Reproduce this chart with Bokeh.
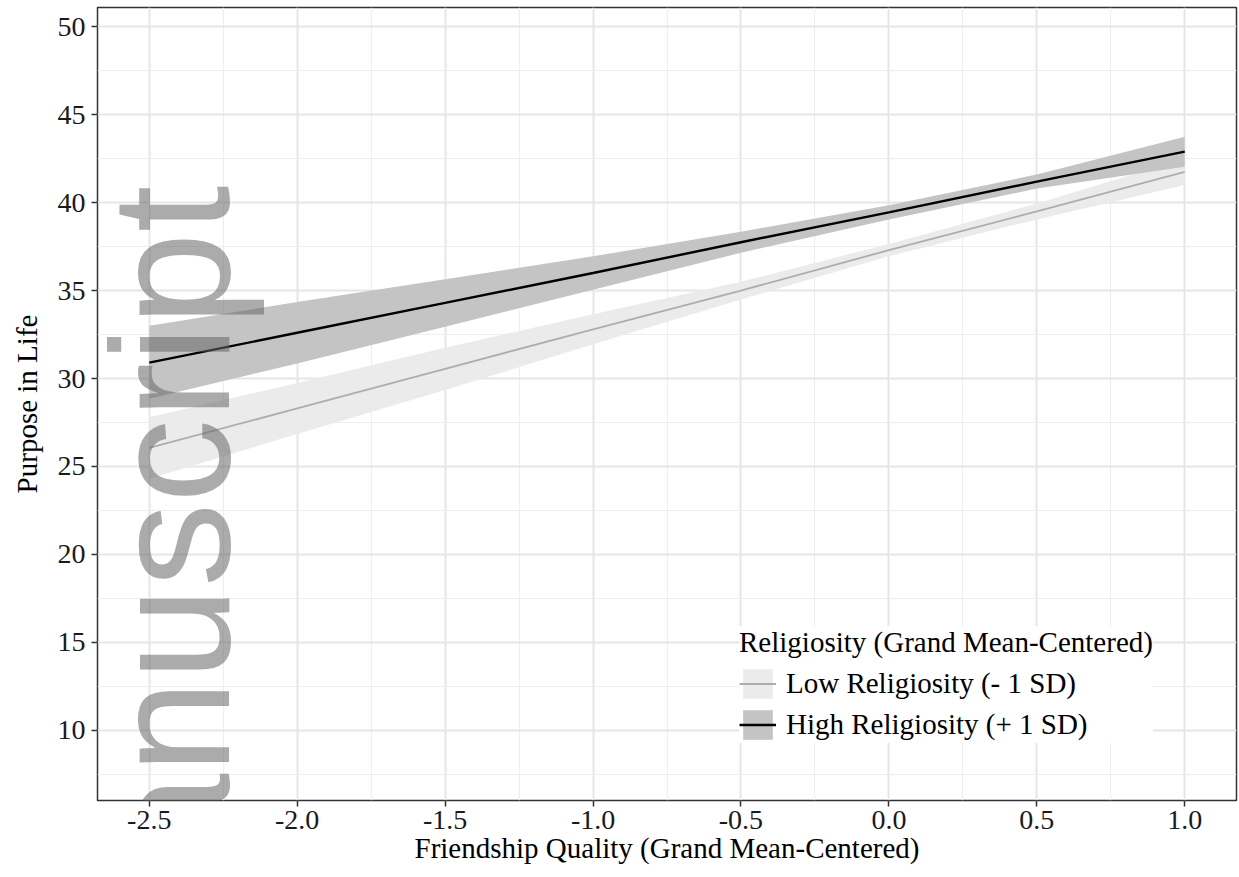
import math
from bokeh.plotting import figure
from bokeh.models import (Range1d, FixedTicker, Legend, LegendItem, Label)
from bokeh.embed import file_html
from bokeh.resources import INLINE

# ---- data ----
x_grid = [-2.5, -2.0, -1.5, -1.0, -0.5, 0.0, 0.5, 1.0]

high_fit = [30.9, 32.6, 34.3, 36.0, 37.75, 39.45, 41.2, 42.9]
high_lower = [28.85, 30.85, 32.95, 35.05, 37.15, 39.05, 40.8, 42.05]
high_upper = [33.0, 34.35, 35.65, 36.95, 38.35, 39.85, 41.6, 43.75]

low_fit = [26.05, 28.3, 30.55, 32.8, 35.0, 37.3, 39.5, 41.75]
low_lower = [24.3, 26.85, 29.35, 31.95, 34.5, 36.95, 39.05, 41.0]
low_upper = [27.8, 29.75, 31.75, 33.65, 35.5, 37.65, 39.95, 42.5]

x_ticks = [-2.5, -2.0, -1.5, -1.0, -0.5, 0.0, 0.5, 1.0]
x_tick_labels = ["-2.5", "-2.0", "-1.5", "-1.0", "-0.5", "0.0", "0.5", "1.0"]
x_minor = [-2.25, -1.75, -1.25, -0.75, -0.25, 0.25, 0.75]
y_ticks = [10, 15, 20, 25, 30, 35, 40, 45, 50]
y_tick_labels = ["10", "15", "20", "25", "30", "35", "40", "45", "50"]
y_minor = [7.5, 12.5, 17.5, 22.5, 27.5, 32.5, 37.5, 42.5, 47.5]

series_labels = ["Low Religiosity (- 1 SD)", "High Religiosity (+ 1 SD)"]
legend_title = "Religiosity (Grand Mean-Centered)"
x_title = "Friendship Quality (Grand Mean-Centered)"
y_title = "Purpose in Life"
watermark = "Manuscript"

SERIF = "Liberation Serif"

p = figure(width=1239, height=877,
           x_range=Range1d(-2.675, 1.175), y_range=Range1d(6.0, 51.1),
           output_backend="svg", toolbar_location=None,
           min_border_left=97, min_border_right=3, min_border_top=7,
           min_border_bottom=77)
p.background_fill_color = "white"
p.border_fill_color = "white"
p.outline_line_color = "#333333"
p.outline_line_width = 1.5

xax = p.xaxis[0]
yax = p.yaxis[0]

# axes
xax.ticker = FixedTicker(ticks=x_ticks, minor_ticks=x_minor)
yax.ticker = FixedTicker(ticks=y_ticks, minor_ticks=y_minor)
xax.major_label_overrides = dict(zip(x_ticks, x_tick_labels))
yax.major_label_overrides = dict(zip(y_ticks, y_tick_labels))
for ax in (xax, yax):
    ax.axis_line_color = None
    ax.minor_tick_line_color = None
    ax.major_tick_line_color = "#333333"
    ax.major_tick_line_width = 1.5
    ax.major_tick_out = 6
    ax.major_tick_in = 0
    ax.major_label_text_font = SERIF
    ax.major_label_text_font_size = "28px"
    ax.major_label_text_color = "#1a1a1a"
    ax.axis_label_text_font = SERIF
    ax.axis_label_text_font_size = "29px"
    ax.axis_label_text_font_style = "normal"
    ax.axis_label_text_color = "black"
xax.axis_label = x_title
yax.axis_label = y_title
xax.major_label_standoff = 4
xax.axis_label_standoff = 0
yax.major_label_standoff = 6
yax.axis_label_standoff = 12

# grid
for g in (p.xgrid, p.ygrid):
    g.grid_line_color = "#E6E6E6"
    g.grid_line_width = 2
    g.minor_grid_line_color = "#EEEEEE"
    g.minor_grid_line_width = 1.2

# ribbons and lines
low_band = p.varea(x=x_grid, y1=low_lower, y2=low_upper, fill_color="#EBEBEB")
high_band = p.varea(x=x_grid, y1=high_lower, y2=high_upper, fill_color="#C4C4C4")
low_line = p.line(x=x_grid, y=low_fit, line_color="#ADADAD", line_width=1.8)
high_line = p.line(x=x_grid, y=high_fit, line_color="black", line_width=2.4)

legend = Legend(
    items=[LegendItem(label=series_labels[0], renderers=[low_band, low_line]),
           LegendItem(label=series_labels[1], renderers=[high_band, high_line])],
    title=legend_title, location=(642, 57),
    title_text_font=SERIF, title_text_font_size="29px",
    title_text_font_style="normal", title_text_color="black",
    label_text_font=SERIF, label_text_font_size="29px", label_text_color="black",
    glyph_width=37, glyph_height=37, label_height=37, spacing=4,
    padding=12, margin=0, border_line_color=None,
    background_fill_color="white", background_fill_alpha=1.0,
    label_standoff=10, title_standoff=6)
p.add_layout(legend)

# watermark (semi-transparent, rotated, reading bottom to top)
wm = Label(x=-2.427, y=40.97, x_units="data", y_units="data", text=watermark,
           angle=math.pi / 2, text_align="right", text_baseline="alphabetic",
           text_font="Liberation Sans", text_font_size="168px",
           text_color="#666666", text_alpha=0.55, level="overlay")
p.add_layout(wm)

open("out.html", "w").write(file_html(p, INLINE))
